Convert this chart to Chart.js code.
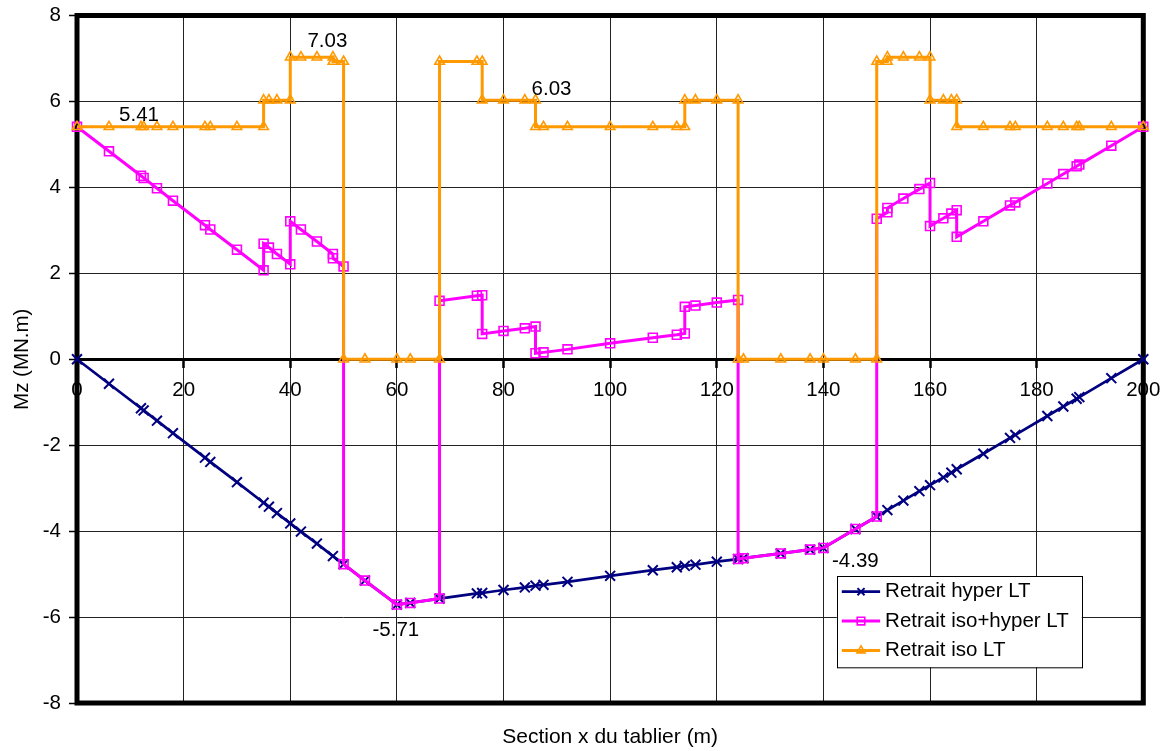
<!DOCTYPE html>
<html>
<head>
<meta charset="utf-8">
<script src="https://cdn.jsdelivr.net/npm/chart.js@4.4.0/dist/chart.umd.min.js"></script>
<style>
html,body{margin:0;padding:0;background:#fff;}
canvas{display:block;}
</style>
</head>
<body>
<canvas id="c" width="1168" height="751"></canvas>
<script>
// ---------- DATA ----------
const seriesNames = ['Retrait hyper LT', 'Retrait iso+hyper LT', 'Retrait iso LT'];
const xTickValues = [0, 20, 40, 60, 80, 100, 120, 140, 160, 180, 200];
const yTickValues = [-8, -6, -4, -2, 0, 2, 4, 6, 8];
const xAxisTitle = 'Section x du tablier (m)';
const yAxisTitle = 'Mz (MN.m)';

// Retrait hyper LT
const hyperX = [0, 6, 12, 12.5, 15, 18, 24, 25, 30, 35, 36, 37.5, 40, 42, 45, 48, 50,
  54, 60, 62.5, 68, 75, 76, 80, 84, 86, 87.5, 92, 100, 108, 112.5, 114, 116, 120, 124,
  125, 132, 137.5, 140, 146, 150, 152, 155, 158, 160, 162.5, 164, 165, 170, 175, 176,
  182, 185, 187.5, 188, 194, 200];
const hyperY = [0, -0.57, -1.14, -1.19, -1.43, -1.72, -2.29, -2.39, -2.86, -3.34, -3.43, -3.58, -3.82, -4.01, -4.29, -4.58, -4.77,
  -5.15, -5.71, -5.67, -5.57, -5.45, -5.44, -5.37, -5.31, -5.27, -5.25, -5.18, -5.04, -4.91, -4.84, -4.81, -4.78, -4.71, -4.65,
  -4.63, -4.52, -4.43, -4.39, -3.95, -3.66, -3.51, -3.29, -3.07, -2.93, -2.75, -2.64, -2.56, -2.20, -1.83, -1.76,
  -1.32, -1.10, -0.92, -0.88, -0.44, 0];

// Retrait iso+hyper LT
const isoHyperX = [0, 6, 12, 12.5, 15, 18, 24, 25, 30, 35,
  35, 36, 37.5, 40,
  40, 42, 45, 48,
  48, 50,
  50, 54, 60, 62.5, 68,
  68, 75, 76,
  76, 80, 84, 86,
  86, 87.5, 92, 100, 108, 112.5, 114,
  114, 116, 120, 124,
  124, 125, 132, 137.5, 140, 146, 150,
  150, 152,
  152, 155, 158, 160,
  160, 162.5, 164, 165,
  165, 170, 175, 176, 182, 185, 187.5, 188, 194, 200];
const isoHyperY = [5.41, 4.84, 4.27, 4.22, 3.98, 3.69, 3.12, 3.02, 2.55, 2.07,
  2.69, 2.60, 2.45, 2.21,
  3.21, 3.02, 2.74, 2.45,
  2.35, 2.16,
  -4.77, -5.15, -5.71, -5.67, -5.57,
  1.36, 1.48, 1.49,
  0.59, 0.66, 0.72, 0.76,
  0.14, 0.16, 0.23, 0.37, 0.50, 0.57, 0.60,
  1.22, 1.25, 1.32, 1.38,
  -4.65, -4.63, -4.52, -4.43, -4.39, -3.95, -3.66,
  3.27, 3.42,
  3.52, 3.74, 3.96, 4.10,
  3.10, 3.28, 3.39, 3.47,
  2.85, 3.21, 3.58, 3.65, 4.09, 4.31, 4.49, 4.53, 4.97, 5.41];

// Retrait iso LT
const isoX = [0, 6, 12, 12.5, 15, 18, 24, 25, 30, 35,
  35, 36, 37.5, 40,
  40, 42, 45, 48,
  48, 50,
  50, 54, 60, 62.5, 68,
  68, 75, 76,
  76, 80, 84, 86,
  86, 87.5, 92, 100, 108, 112.5, 114,
  114, 116, 120, 124,
  124, 125, 132, 137.5, 140, 146, 150,
  150, 152,
  152, 155, 158, 160,
  160, 162.5, 164, 165,
  165, 170, 175, 176, 182, 185, 187.5, 188, 194, 200];
const isoY = [5.41, 5.41, 5.41, 5.41, 5.41, 5.41, 5.41, 5.41, 5.41, 5.41,
  6.03, 6.03, 6.03, 6.03,
  7.03, 7.03, 7.03, 7.03,
  6.93, 6.93,
  0, 0, 0, 0, 0,
  6.93, 6.93, 6.93,
  6.03, 6.03, 6.03, 6.03,
  5.41, 5.41, 5.41, 5.41, 5.41, 5.41, 5.41,
  6.03, 6.03, 6.03, 6.03,
  0, 0, 0, 0, 0, 0, 0,
  6.93, 6.93,
  7.03, 7.03, 7.03, 7.03,
  6.03, 6.03, 6.03, 6.03,
  5.41, 5.41, 5.41, 5.41, 5.41, 5.41, 5.41, 5.41, 5.41, 5.41];

// ---------- CHART ----------
const FONT = '"Liberation Sans", Arial, sans-serif';
const toPoints = (xs, ys) => xs.map((x, i) => ({ x: x, y: ys[i] }));

const labelSpecs = [
  { ds: 2, idx: isoX.indexOf(12), dx: -2, dy: -11 },
  { ds: 2, idx: isoX.indexOf(48), dx: -5.5, dy: -16 },
  { ds: 2, idx: isoX.indexOf(86), dx: 16, dy: -11 },
  { ds: 0, idx: hyperX.indexOf(60), dx: -1, dy: 26 },
  { ds: 0, idx: hyperX.indexOf(140), dx: 32, dy: 13.5 }
];

const plotBorder = {
  id: 'plotBorder',
  beforeDatasetsDraw(chart) {
    const { ctx, chartArea: a } = chart;
    ctx.save();
    ctx.strokeStyle = '#000';
    ctx.lineWidth = 5;
    ctx.strokeRect(a.left, a.top, a.right - a.left, a.bottom - a.top);
    ctx.restore();
  }
};

const valueLabels = {
  id: 'valueLabels',
  afterDatasetsDraw(chart) {
    const ctx = chart.ctx;
    ctx.save();
    ctx.font = '20.5px ' + FONT;
    ctx.fillStyle = '#000';
    ctx.textAlign = 'center';
    ctx.textBaseline = 'middle';
    labelSpecs.forEach(s => {
      const el = chart.getDatasetMeta(s.ds).data[s.idx];
      const v = chart.data.datasets[s.ds].data[s.idx].y;
      ctx.fillText(v.toFixed(2), el.x + s.dx, el.y + s.dy);
    });
    ctx.restore();
  }
};

function drawMarker(ctx, ds, x, y, r) {
  const H = Chart.helpers;
  ctx.strokeStyle = ds.pointBorderColor || ds.borderColor;
  ctx.fillStyle = ds.pointBackgroundColor || 'rgba(0,0,0,0)';
  ctx.lineWidth = ds.pointBorderWidth;
  if (H && H.drawPoint) {
    H.drawPoint(ctx, { pointStyle: ds.pointStyle, radius: r, rotation: 0, borderWidth: ds.pointBorderWidth }, x, y);
  }
}

const boxLegend = {
  id: 'boxLegend',
  afterDraw(chart) {
    const { ctx, chartArea: a } = chart;
    const bx = a.right - 306.5, by = a.bottom - 127, bw = 245, bh = 91.3;
    ctx.save();
    ctx.fillStyle = '#fff';
    ctx.fillRect(bx, by, bw, bh);
    ctx.strokeStyle = '#000';
    ctx.lineWidth = 1;
    ctx.strokeRect(Math.round(bx) + 0.5, Math.round(by) + 0.5, bw, bh);
    chart.data.datasets.forEach((ds, i) => {
      const y = by + 15.7 + i * 29.4;
      ctx.strokeStyle = ds.borderColor;
      ctx.lineWidth = ds.borderWidth;
      ctx.beginPath();
      ctx.moveTo(bx + 5, y);
      ctx.lineTo(bx + 43.3, y);
      ctx.stroke();
      drawMarker(ctx, ds, bx + 24.2, y, i === 0 ? 5 : ds.pointRadius * 0.85);
      ctx.fillStyle = '#000';
      ctx.font = '20.5px ' + FONT;
      ctx.textAlign = 'left';
      ctx.textBaseline = 'middle';
      ctx.fillText(ds.label, bx + 48.3, y);
    });
    ctx.restore();
  }
};

new Chart(document.getElementById('c'), {
  type: 'line',
  data: {
    datasets: [
      {
        label: seriesNames[0],
        data: toPoints(hyperX, hyperY),
        borderColor: '#000080',
        backgroundColor: '#000080',
        borderWidth: 2.75,
        pointStyle: 'crossRot',
        pointRadius: 7,
        pointBorderWidth: 2,
        pointBorderColor: '#000080',
        pointBackgroundColor: '#000080',
        tension: 0,
        clip: false,
        order: 3
      },
      {
        label: seriesNames[1],
        data: toPoints(isoHyperX, isoHyperY),
        borderColor: '#FF00FF',
        backgroundColor: '#FF00FF',
        borderWidth: 3,
        pointStyle: 'rect',
        pointRadius: 6.3,
        pointBorderWidth: 1.6,
        pointBorderColor: '#FF00FF',
        pointBackgroundColor: 'rgba(0,0,0,0)',
        tension: 0,
        clip: false,
        order: 2
      },
      {
        label: seriesNames[2],
        data: toPoints(isoX, isoY),
        borderColor: '#FF9900',
        backgroundColor: '#FF9900',
        borderWidth: 3,
        pointStyle: 'triangle',
        pointRadius: 5.5,
        pointBorderWidth: 1.6,
        pointBorderColor: '#FF9900',
        pointBackgroundColor: 'rgba(0,0,0,0)',
        tension: 0,
        clip: false,
        order: 1
      }
    ]
  },
  options: {
    responsive: false,
    animation: false,
    devicePixelRatio: 1,
    events: [],
    layout: { padding: { left: 0, right: 24.7, top: 15.5, bottom: 0 } },
    plugins: {
      legend: { display: false },
      tooltip: { enabled: false },
      title: {
        display: true,
        position: 'bottom',
        fullSize: false,
        text: xAxisTitle,
        color: '#000',
        font: { family: FONT, size: 21, weight: 'normal', lineHeight: 1.2 },
        padding: { top: 21.4, bottom: 1.4 }
      }
    },
    scales: {
      x: {
        type: 'linear',
        position: { y: 0 },
        min: 0,
        max: 200,
        afterBuildTicks(scale) { scale.ticks = xTickValues.map(v => ({ value: v })); },
        afterFit(scale) {
          scale.height = 0;
          scale.paddingLeft = 0; scale.paddingRight = 0;
          scale.paddingTop = 0; scale.paddingBottom = 0;
        },
        ticks: {
          autoSkip: false,
          maxRotation: 0,
          minRotation: 0,
          padding: 11.5,
          color: '#000',
          font: { family: FONT, size: 20.5, lineHeight: 1.2 },
          callback: v => String(v)
        },
        grid: {
          color: '#222',
          lineWidth: 1,
          tickLength: 7,
          tickColor: '#000',
          tickWidth: 2.5
        },
        border: { display: true, color: '#000', width: 3 }
      },
      y: {
        type: 'linear',
        position: 'left',
        min: -8,
        max: 8,
        afterBuildTicks(scale) { scale.ticks = yTickValues.map(v => ({ value: v })); },
        afterFit(scale) {
          scale.width = 77;
          scale.paddingTop = 0; scale.paddingBottom = 0;
          scale.paddingLeft = 0; scale.paddingRight = 0;
        },
        ticks: {
          autoSkip: false,
          padding: 8,
          color: '#000',
          font: { family: FONT, size: 20.5, lineHeight: 1.2 },
          callback: v => String(v)
        },
        grid: {
          color: '#222',
          lineWidth: 1,
          tickLength: 8,
          tickColor: '#000',
          tickWidth: 1.5
        },
        border: { display: false },
        title: {
          display: true,
          text: yAxisTitle,
          color: '#000',
          font: { family: FONT, size: 20.5, weight: 'normal', lineHeight: 1.2 },
          padding: { top: 10.2, bottom: 0 }
        }
      }
    }
  },
  plugins: [plotBorder, valueLabels, boxLegend]
});
</script>
</body>
</html>
